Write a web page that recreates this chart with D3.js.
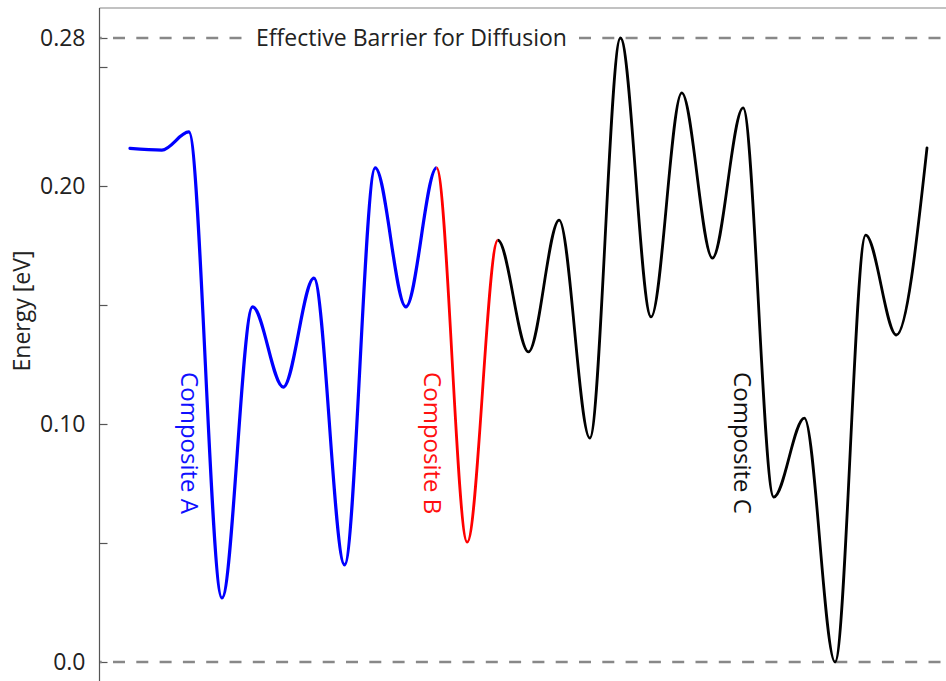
<!DOCTYPE html>
<html>
<head>
<meta charset="utf-8">
<script src="https://cdn.jsdelivr.net/npm/d3@7"></script>
<style>
  body { margin: 0; background: #fff; }
  text { font-family: "Open Sans", "DejaVu Sans", sans-serif; }
</style>
</head>
<body>
<svg id="chart" width="946" height="681"></svg>
<script>
// ---------------- DATA ----------------
// reaction coordinate (arbitrary units) and energies [eV] of each composite path
const compositeA_x = [1, 2.04, 2.92, 4, 5, 6, 7, 8, 9, 10, 11];
const compositeA_E = [0.2158, 0.2151, 0.2227, 0.0269, 0.1492, 0.1155, 0.1613, 0.0408, 0.2076, 0.1492, 0.2076];
const compositeB_x = [11, 12, 13];
const compositeB_E = [0.2076, 0.0504, 0.1773];
const compositeC_x = [13, 14, 15, 16, 17, 18, 19, 20, 21, 22, 23, 24, 25, 26, 27];
const compositeC_E = [0.1773, 0.1303, 0.1857, 0.0941, 0.28, 0.1450, 0.2391, 0.1697, 0.2328, 0.0693, 0.1025, 0.0, 0.1794, 0.1374, 0.2160];

const majorTicks = [0, 0.10, 0.20, 0.28];
const majorTickLabels = ["0.0", "0.10", "0.20", "0.28"];
const minorTicks = [0.05, 0.15, 0.25];
const barrierEnergy = 0.28;
const baselineEnergy = 0.0;
const seriesNames = ["Composite A", "Composite B", "Composite C"];
const axisTitle = "Energy [eV]";
const barrierLabel = "Effective Barrier for Diffusion";

// ---------------- LAYOUT ----------------
const W = 946, H = 681;
const axisX = 99.5;
const svg = d3.select("#chart");

const x = d3.scaleLinear().domain([1, 27]).range([130, 927]);
const y = d3.scaleLinear().domain([0, 0.25, 0.28, 0.311]).range([662, 67, 38, 8]);

// top frame line
svg.append("line")
  .attr("x1", axisX).attr("x2", W)
  .attr("y1", y(0.311)).attr("y2", y(0.311))
  .attr("stroke", "#c2c2c2").attr("stroke-width", 2);

// left axis line
svg.append("line")
  .attr("x1", axisX).attr("x2", axisX)
  .attr("y1", y(0.311)).attr("y2", H)
  .attr("stroke", "#555").attr("stroke-width", 1.2);

// major ticks + labels
const gMajor = svg.append("g").attr("transform", `translate(${axisX},0)`)
  .call(d3.axisLeft(y).tickValues(majorTicks).tickSize(-8).tickPadding(14)
    .tickFormat(d => majorTickLabels[majorTicks.indexOf(d)]));
gMajor.select(".domain").remove();
gMajor.selectAll(".tick line").attr("stroke", "#555").attr("stroke-width", 1.2);
gMajor.selectAll(".tick text").attr("fill", "#222").style("font-size", "23px")
  .style("font-family", "'Open Sans', sans-serif");

// minor ticks
const gMinor = svg.append("g").attr("transform", `translate(${axisX},0)`)
  .call(d3.axisLeft(y).tickValues(minorTicks).tickSize(-8).tickFormat(""));
gMinor.select(".domain").remove();
gMinor.selectAll(".tick line").attr("stroke", "#555").attr("stroke-width", 1.2);

// axis title
svg.append("text")
  .attr("transform", `translate(30,311) rotate(-90)`)
  .attr("text-anchor", "middle")
  .attr("fill", "#222")
  .style("font-size", "23px")
  .text(axisTitle);

// dashed reference lines
[baselineEnergy, barrierEnergy].forEach(e => {
  svg.append("line")
    .attr("x1", axisX + 0.5).attr("x2", W)
    .attr("y1", y(e)).attr("y2", y(e))
    .attr("stroke", "#888").attr("stroke-width", 2.6)
    .attr("stroke-dasharray", "12 11.3")
    .attr("stroke-dashoffset", 10.3);
});

// barrier label with white background
const tGroup = svg.append("g");
const bgRect = tGroup.append("rect").attr("fill", "#fff");
const tLabel = tGroup.append("text")
  .attr("x", 411.5).attr("y", y(barrierEnergy))
  .attr("dy", "0.36em")
  .attr("text-anchor", "middle")
  .attr("fill", "#222")
  .style("font-size", "23px")
  .text(barrierLabel);
const bb = tLabel.node().getBBox();
bgRect.attr("x", bb.x - 9).attr("y", y(barrierEnergy) - 6)
  .attr("width", bb.width + 18).attr("height", 12);

// energy profile
const fullX = compositeA_x.concat(compositeB_x.slice(1), compositeC_x.slice(1));
const fullE = compositeA_E.concat(compositeB_E.slice(1), compositeC_E.slice(1));
const pts = fullX.map((v, i) => [v, fullE[i]]);
const line = d3.line().x(d => x(d[0])).y(d => y(d[1])).curve(d3.curveMonotoneX);

const series = [
  { name: seriesNames[0], xs: compositeA_x, color: "#0000ff", width: 3.2 },
  { name: seriesNames[1], xs: compositeB_x, color: "#ff0000", width: 2.8 },
  { name: seriesNames[2], xs: compositeC_x, color: "#000000", width: 2.8 }
];

const defs = svg.append("defs");
series.forEach((s, i) => {
  const x0 = i === 0 ? 0 : x(s.xs[0]);
  const x1 = i === series.length - 1 ? W : x(s.xs[s.xs.length - 1]);
  defs.append("clipPath").attr("id", "clip" + i)
    .append("rect").attr("x", x0).attr("y", 0).attr("width", x1 - x0).attr("height", H);
  svg.append("path")
    .attr("d", line(pts))
    .attr("clip-path", `url(#clip${i})`)
    .attr("fill", "none")
    .attr("stroke", s.color)
    .attr("stroke-width", s.width)
    .attr("stroke-linejoin", "round")
    .attr("stroke-linecap", "round");
});

// composite labels (vertical, reading top to bottom)
const labelPos = [
  { x: 2.67, e: 0.1218, color: "#1010ff" },
  { x: 10.59, e: 0.1218, color: "#ff1010" },
  { x: 20.71, e: 0.1218, color: "#111" }
];
labelPos.forEach((p, i) => {
  svg.append("text")
    .attr("transform", `translate(${x(p.x)},${y(p.e)}) rotate(90)`)
    .attr("text-anchor", "start")
    .attr("fill", p.color)
    .style("font-size", "24px")
    .text(seriesNames[i]);
});
</script>
</body>
</html>
